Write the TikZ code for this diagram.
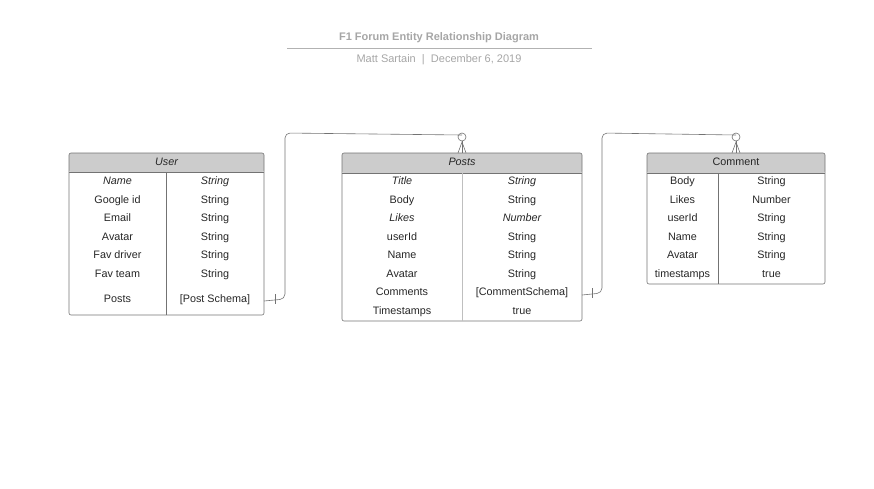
\documentclass[tikz,border=0pt]{standalone}
\usepackage{fontspec}
\setmainfont{Liberation Sans}
\begin{document}
\begin{tikzpicture}[x=1pt,y=-1pt,
  every node/.style={font=\fontsize{10.8}{12}\selectfont, text=black!85, inner sep=0pt, text height=7.8pt, text depth=2.2pt, yshift=-2pt},
  box/.style={draw=black!55, line width=0.6pt, rounded corners=2pt},
  hdr/.style={fill=black!20},
  divl/.style={draw=black!55, line width=0.6pt},
  conn/.style={draw=black!55, line width=0.6pt, rounded corners=5pt},
  endmk/.style={draw=black!55, line width=0.6pt},
  ttl/.style={font=\fontsize{11}{13}\selectfont\bfseries, text=black!35},
  sub/.style={font=\fontsize{11}{13}\selectfont, text=black!35}
]
\useasboundingbox (0,0) rectangle (874,488);

% Title
\node[ttl] (title) at (439,36) {F1 Forum Entity Relationship Diagram};
\draw[black!30, line width=0.6pt] (287,48) -- (592,48);
\node[sub] (subt) at (439,58) {Matt Sartain \ \textbar\ \ December 6, 2019};

% ---------- User ----------
\begin{scope}
\path[hdr, rounded corners=2pt] (69,172) -- (69,153) -- (264,153) -- (264,172) -- cycle;
\draw[box] (69,153) rectangle (264,315);
\draw[divl] (69,172) -- (264,172);
\draw[divl] (166,172) -- (166,315);
\node (uh) at (166.5,161) {\itshape User};
\node (u1a) at (117.5,180) {\itshape Name};      \node (u1b) at (215,180) {\itshape String};
\node (u2a) at (117.5,199) {Google id};          \node (u2b) at (215,199) {String};
\node (u3a) at (117.5,217) {Email};              \node (u3b) at (215,217) {String};
\node (u4a) at (117.5,236) {Avatar};             \node (u4b) at (215,236) {String};
\node (u5a) at (117.5,254) {Fav driver};         \node (u5b) at (215,254) {String};
\node (u6a) at (117.5,273) {Fav team};           \node (u6b) at (215,273) {String};
\node (u7a) at (117.5,298) {Posts};              \node (u7b) at (215,298) {[Post Schema]};
\coordinate (uout) at (264,299);
\end{scope}

% ---------- Posts ----------
\begin{scope}
\path[hdr, rounded corners=2pt] (342,173) -- (342,153) -- (582,153) -- (582,173) -- cycle;
\draw[box] (342,153) rectangle (582,321);
\draw[divl] (342,173) -- (582,173);
\draw[draw=black!25, line width=1pt] (462,173) -- (462,321);
\node (ph) at (462,161) {\itshape Posts};
\node (p1a) at (402,180) {\itshape Title};      \node (p1b) at (522,180) {\itshape String};
\node (p2a) at (402,199) {Body};                \node (p2b) at (522,199) {String};
\node (p3a) at (402,217) {\itshape Likes};      \node (p3b) at (522,217) {\itshape Number};
\node (p4a) at (402,236) {userId};              \node (p4b) at (522,236) {String};
\node (p5a) at (402,254) {Name};                \node (p5b) at (522,254) {String};
\node (p6a) at (402,273) {Avatar};              \node (p6b) at (522,273) {String};
\node (p7a) at (402,291) {Comments};            \node (p7b) at (522,291) {[CommentSchema]};
\node (p8a) at (402,310) {Timestamps};          \node (p8b) at (522,310) {true};
\coordinate (pout) at (582,293);
\coordinate (pin) at (462,133);
\end{scope}

% ---------- Comment ----------
\begin{scope}
\path[hdr, rounded corners=2pt] (647,173) -- (647,153) -- (825,153) -- (825,173) -- cycle;
\draw[box] (647,153) rectangle (825,284);
\draw[divl] (647,173) -- (825,173);
\draw[divl] (718,173) -- (718,284);
\node (ch) at (736,161) {Comment};
\node (c1a) at (682.5,180) {Body};        \node (c1b) at (771.5,180) {String};
\node (c2a) at (682.5,199) {Likes};       \node (c2b) at (771.5,199) {Number};
\node (c3a) at (682.5,217) {userId};      \node (c3b) at (771.5,217) {String};
\node (c4a) at (682.5,236) {Name};        \node (c4b) at (771.5,236) {String};
\node (c5a) at (682.5,254) {Avatar};      \node (c5b) at (771.5,254) {String};
\node (c6a) at (682.5,273) {timestamps};  \node (c6b) at (771.5,273) {true};
\coordinate (cin) at (736,133);
\end{scope}

% ---------- Connectors ----------
\draw[conn] (uout) -- (285,299) -- (285,133) -- (pin);
\draw[endmk] (275,294) -- (275,304);
\draw[endmk] (462,137) circle (4);
\draw[endmk] (458,153) -- (462,142) -- (466,153);
\draw[endmk] (462,141) -- (462,153);

\draw[conn] (pout) -- (602,293) -- (602,133) -- (cin);
\draw[endmk] (592,288) -- (592,298);
\draw[endmk] (736,137) circle (4);
\draw[endmk] (732,153) -- (736,142) -- (740,153);
\draw[endmk] (736,141) -- (736,153);
\end{tikzpicture}
\end{document}
